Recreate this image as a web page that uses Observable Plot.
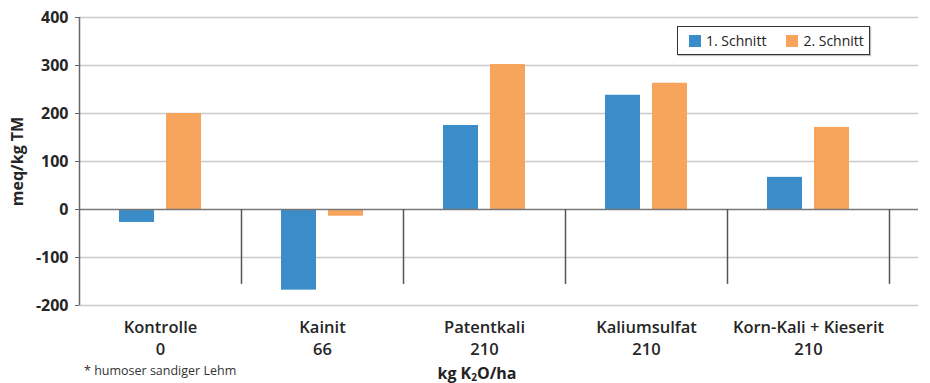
<!DOCTYPE html>
<html><head><meta charset="utf-8">
<script src="https://cdn.jsdelivr.net/npm/d3@7"></script>
<script src="https://cdn.jsdelivr.net/npm/@observablehq/plot@0.6"></script>
<style>
body{margin:0;background:#fff;font-family:"Open Sans",sans-serif;}
#wrap{position:relative;width:930px;height:383px;overflow:hidden;}
#legend{position:absolute;left:677px;top:26px;width:191px;height:27px;border:1.5px solid #333;background:#fff;box-shadow:1px 1px 1px rgba(0,0,0,0.25);font-size:14px;color:#222;display:flex;align-items:center;}
#legend .item{display:flex;align-items:center;margin-left:11px;}
#legend .item + .item{margin-left:20px;}
#legend .sw{width:12px;height:12px;margin-right:5px;}
#xtitle{position:absolute;left:377px;width:200px;text-align:center;top:363px;font-size:16px;font-weight:700;color:#222;line-height:20px;}
#xtitle sub{font-size:10px;vertical-align:-2px;line-height:0;}
#foot{position:absolute;left:84px;top:362px;font-size:12.5px;color:#333;line-height:18px;}
</style></head><body><div id="wrap"></div>
<script>
const categories = ["Kontrolle","Kainit","Patentkali","Kaliumsulfat","Korn-Kali + Kieserit"];
const doses = ["0","66","210","210","210"];
const schnitt1 = [-27,-168,175,238,67];
const schnitt2 = [200,-14,302,263,171];
const seriesNames = ["1. Schnitt","2. Schnitt"];
const colors = ["#3a8dc9","#f7a45d"];
const yTicks = [-200,-100,0,100,200,300,400];
const yLabel = "meq/kg TM";

const s1 = categories.map((c,i)=>({cat:c, value:schnitt1[i]}));
const s2 = categories.map((c,i)=>({cat:c, value:schnitt2[i]}));

const chart = Plot.plot({
  width:930, height:383,
  marginLeft:79, marginRight:12, marginTop:17, marginBottom:78,
  style:{fontFamily:"Open Sans", background:"white", color:"#262626"},
  x:{domain:categories, range:[79,889], padding:0, axis:null},
  y:{domain:[-200,400], axis:null},
  marks:[
    Plot.ruleY(yTicks.filter(d=>d!==0), {stroke:"#c9c9c9", strokeWidth:1.5}),
    Plot.barY(s1, {x:"cat", y:"value", fill:colors[0], insetLeft:40, insetRight:87}),
    Plot.barY(s2, {x:"cat", y:"value", fill:colors[1], insetLeft:87, insetRight:40}),
    Plot.ruleY([0], {stroke:"#777", strokeWidth:1.5}),
    Plot.ruleX(categories, {x:d=>d, y1:0, y2:-156, dx:81, stroke:"#555", strokeWidth:1.5}),
    Plot.ruleX([categories[0]], {x:d=>d, y1:-200, y2:400, dx:-81, stroke:"#666", strokeWidth:1.5}),
    Plot.axisY({ticks:yTicks, tickSize:4, tickPadding:7, stroke:"#666", fontSize:16, fontWeight:700, fill:"#262626",
      tickFormat:d=>String(d), label:null}),
    Plot.text([yLabel], {frameAnchor:"left", textAnchor:"middle", dx:-62, rotate:-90, fontSize:16, fontWeight:700, fill:"#262626", text:d=>d}),
    Plot.text(categories, {x:d=>d, text:(d,i)=>d+"\n"+doses[i], frameAnchor:"bottom", lineAnchor:"top", dy:11,
      lineHeight:1.38, fontSize:16.5, fontWeight:600, fill:"#262626"})
  ]
});
const wrap = document.getElementById("wrap");
wrap.appendChild(chart);

const legend = document.createElement("div");
legend.id = "legend";
seriesNames.forEach((n,i)=>{
  const it = document.createElement("div"); it.className="item";
  const sw = document.createElement("div"); sw.className="sw"; sw.style.background=colors[i];
  const t = document.createElement("span"); t.textContent=n;
  it.appendChild(sw); it.appendChild(t); legend.appendChild(it);
});
wrap.appendChild(legend);

const xt = document.createElement("div"); xt.id="xtitle";
xt.innerHTML = "kg K<sub>2</sub>O/ha";
wrap.appendChild(xt);
const ft = document.createElement("div"); ft.id="foot";
ft.textContent = "* humoser sandiger Lehm";
wrap.appendChild(ft);
</script></body></html>
